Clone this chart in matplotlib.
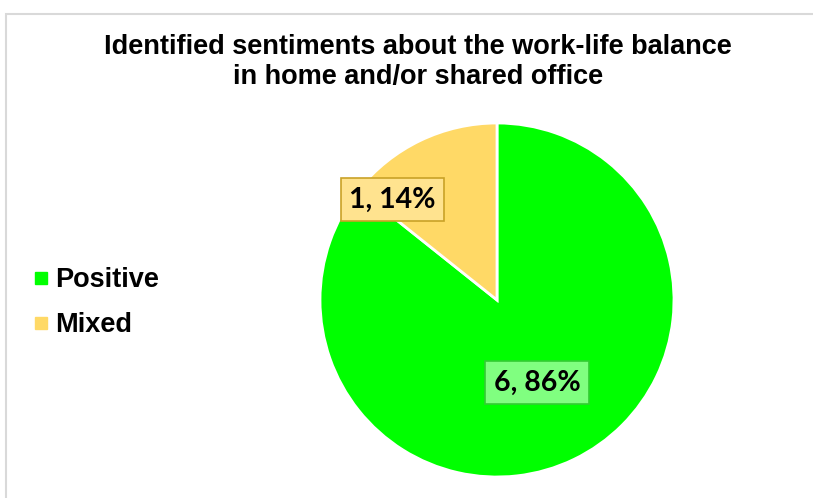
import numpy as np
import matplotlib.pyplot as plt
from matplotlib.patches import Rectangle

# sentiment counts
sentiments = ['Positive', 'Mixed']
counts = [6, 1]
colors = ['#00FF00', '#FFD966']
box_fill = ['#80FF80', '#FFE38F']
box_edge = ['#33CC33', '#C9A227']

W, H = 813, 498
fig = plt.figure(figsize=(W / 100, H / 100), dpi=100)
ax = fig.add_axes([0, 0, 1, 1])

# chart area border
fig.patches.append(Rectangle((6 / W, -0.1), 1.2, (H - 14) / H + 0.1, transform=fig.transFigure,
                             fill=False, edgecolor='#D9D9D9', linewidth=1.5))

cx, cy, r = 497, H - 300, 177
wedges, _ = ax.pie(counts, colors=colors, startangle=90, counterclock=False,
                   center=(cx, cy), radius=r, frame=True,
                   wedgeprops=dict(edgecolor='white', linewidth=2))
ax.set_xlim(0, W)
ax.set_ylim(0, H)
ax.set_aspect('equal')
ax.axis('off')

total = sum(counts)
# label placement: (angle shift from wedge middle, distance as fraction of radius)
placement = [(0.0, 0.52), (20.4, 0.82)]
for w, n, fc, ec, (shift, dist) in zip(wedges, counts, box_fill, box_edge, placement):
    ang = np.deg2rad((w.theta1 + w.theta2) / 2 + shift)
    x = cx + dist * r * np.cos(ang)
    y = cy + dist * r * np.sin(ang)
    ax.text(x, y, '%d, %d%%' % (n, round(100 * n / total)), ha='center', va='center',
            fontsize=20.5, fontweight='bold', family='Lato', color='black',
            bbox=dict(boxstyle='square,pad=0.3', facecolor=fc, edgecolor=ec, linewidth=1.2))

fig.text(418 / W, 1 - 62 / H, 'Identified sentiments about the work-life balance\nin home and/or shared office',
         ha='center', va='center', fontsize=19.5, fontweight='bold', family='Liberation Sans',
         linespacing=1.2)

# legend
for i, (name, c) in enumerate(zip(sentiments, colors)):
    y = H - (278 + 45 * i)
    ax.plot(41, y, marker='s', markersize=8, color=c, linestyle='none')
    ax.text(55, y - 2, name, ha='left', va='center', fontsize=19.5, fontweight='bold',
            family='Liberation Sans')

fig.savefig('out.png', dpi=100)
